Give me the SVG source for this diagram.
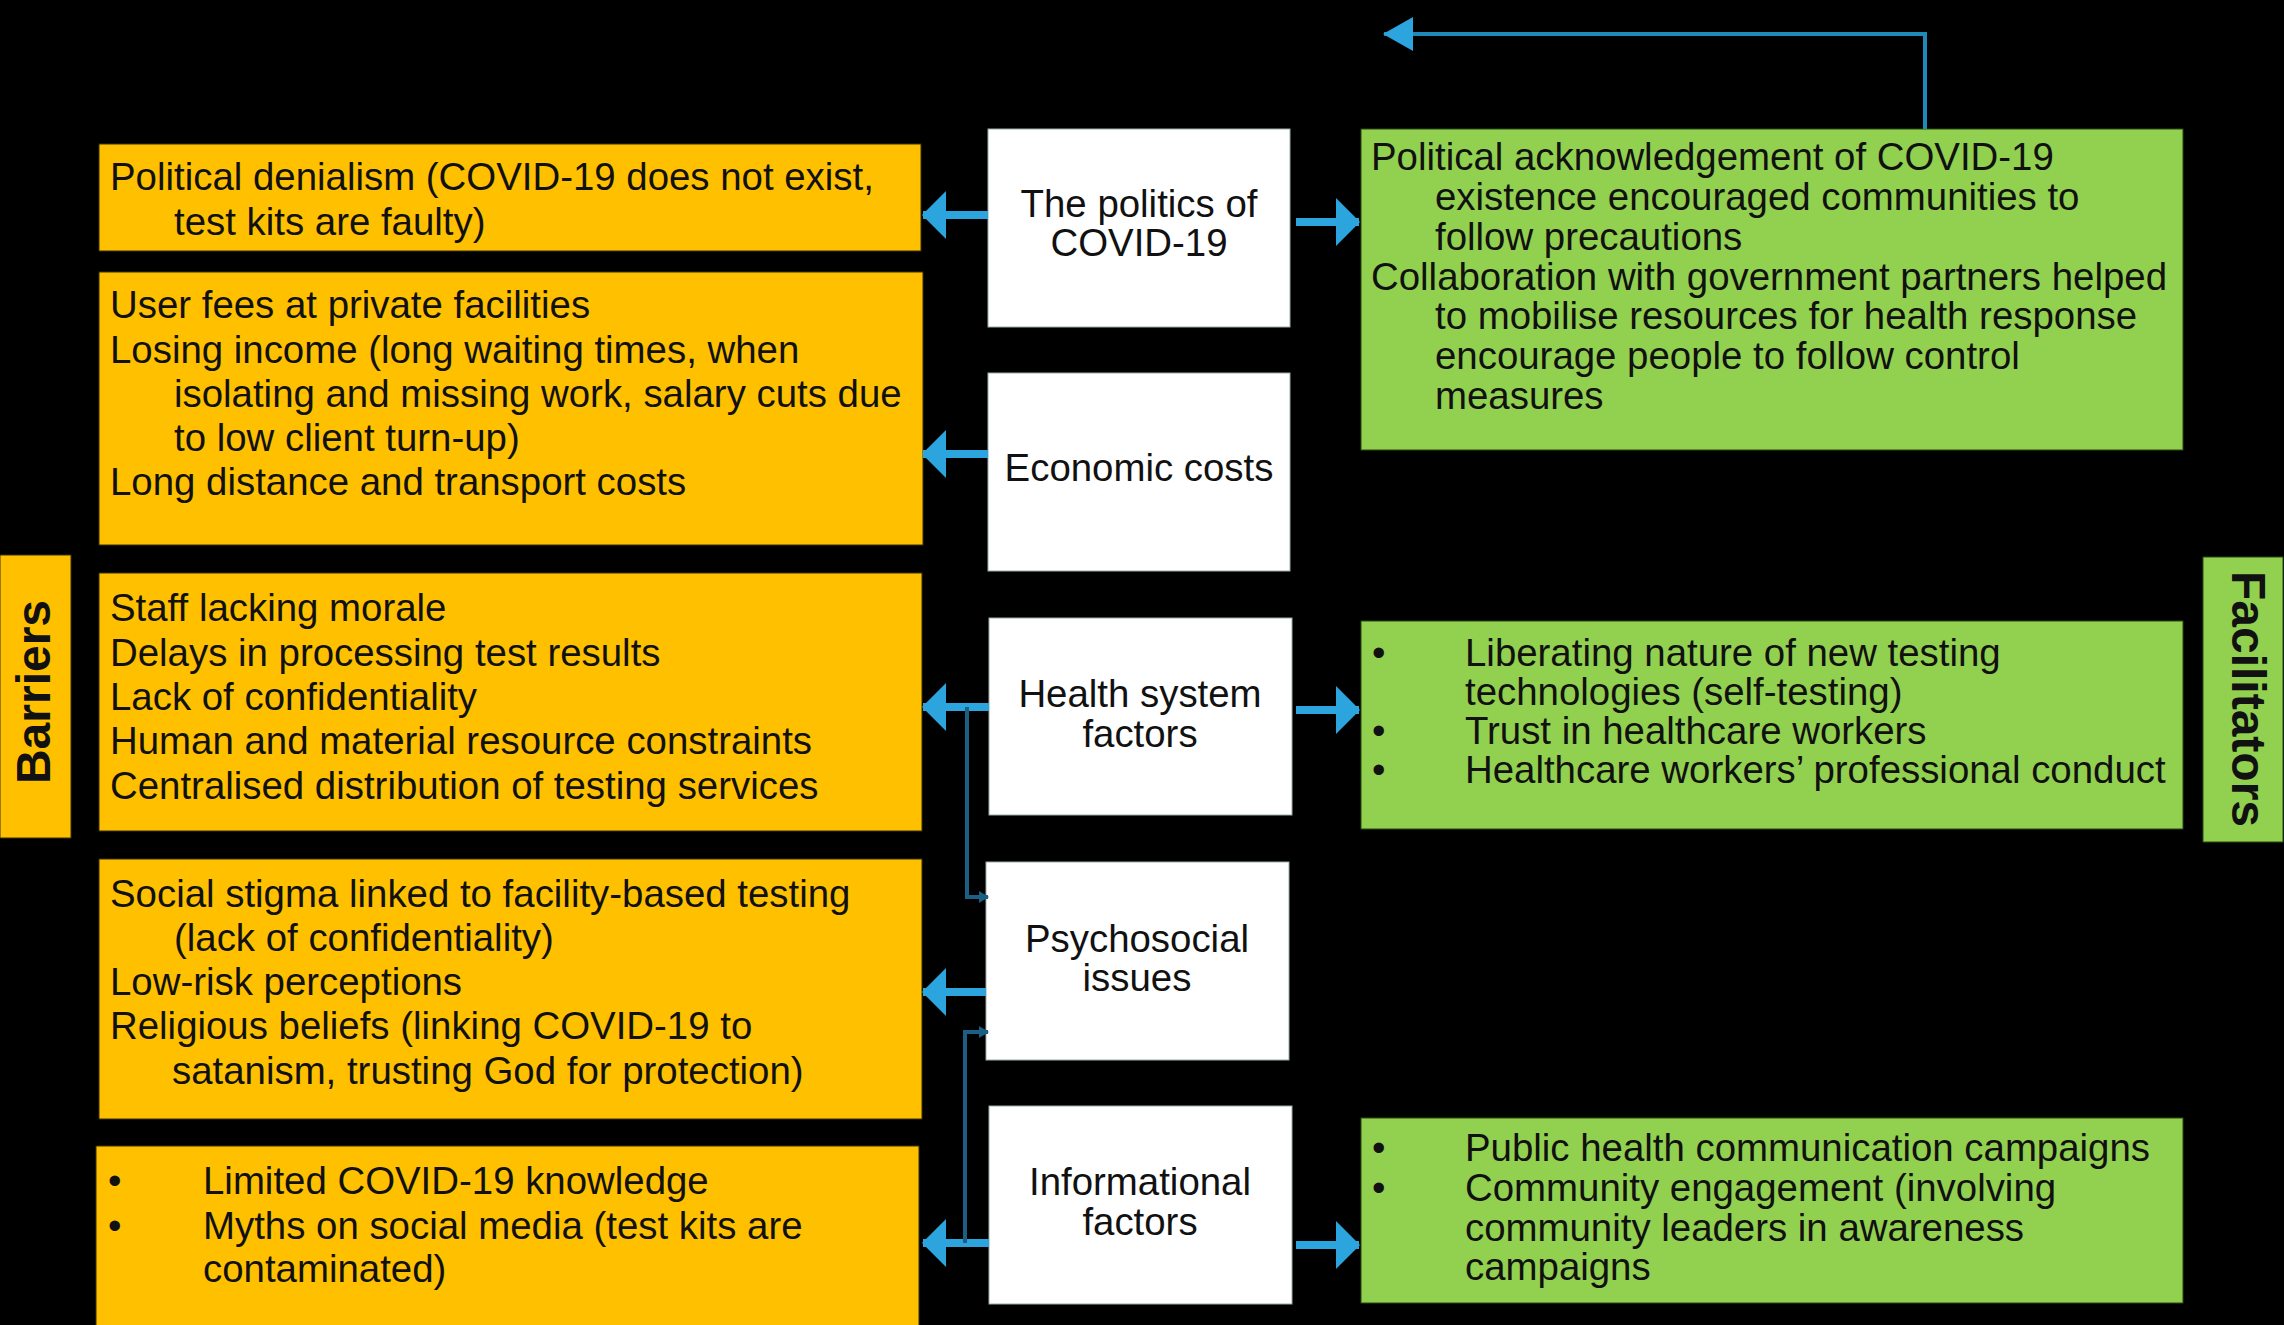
<svg xmlns="http://www.w3.org/2000/svg" width="2284" height="1325" viewBox="0 0 2284 1325">
<defs>
<style>
.bg{fill:#000}
.yel{fill:#FFC000;stroke:#3a3000;stroke-width:1}
.grn{fill:#92D050;stroke:#2a4a10;stroke-width:1}
.wht{fill:#fff;stroke:#9aa;stroke-width:1}
.t{font-family:"Liberation Sans",Arial,sans-serif;font-size:38.4px;fill:#111}
.c{text-anchor:middle}
.side{font-family:"Liberation Sans",Arial,sans-serif;font-size:48px;font-weight:bold;fill:#111;text-anchor:middle}
.arr{stroke:#2CA5DE;stroke-width:8;fill:none}
.br{stroke:#1B5F82;stroke-width:4;fill:none}
.top{stroke:#1E8AB8;stroke-width:4;fill:none}
</style>
<marker id="ah" markerUnits="userSpaceOnUse" viewBox="0 0 24 48" markerWidth="24" markerHeight="48" refX="23" refY="24" orient="auto">
<path d="M0,0 L24,24 L0,48 Z" fill="#2CA5DE"/>
</marker>
<marker id="ahs" markerUnits="userSpaceOnUse" viewBox="0 0 10 12" markerWidth="10" markerHeight="12" refX="9" refY="6" orient="auto">
<path d="M0,0 L10,6 L0,12 Z" fill="#1B5F82"/>
</marker>
<marker id="aht" markerUnits="userSpaceOnUse" viewBox="0 0 30 34" markerWidth="30" markerHeight="34" refX="29" refY="17" orient="auto">
<path d="M0,0 L30,17 L0,34 Z" fill="#2CA5DE"/>
</marker>
</defs>
<rect class="bg" x="0" y="0" width="2284" height="1325"/>

<g id="barriers-label">
<rect class="yel" x="0" y="555" width="71" height="283"/>
<text class="side" transform="translate(50,692) rotate(-90)">Barriers</text>
</g>
<g id="facilitators-label">
<rect class="grn" x="2203" y="557" width="80" height="285"/>
<text class="side" transform="translate(2232,699) rotate(90)">Facilitators</text>
</g>

<g id="b-politics">
<rect class="yel" x="99" y="144" width="822" height="107"/>
<text class="t"><tspan x="110" y="190">Political denialism (COVID-19 does not exist,</tspan><tspan x="174" y="235">test kits are faulty)</tspan></text>
</g>
<g id="b-economic">
<rect class="yel" x="99" y="272" width="824" height="273"/>
<text class="t"><tspan x="110" y="318">User fees at private facilities</tspan><tspan x="110" y="363">Losing income (long waiting times, when</tspan><tspan x="174" y="407">isolating and missing work, salary cuts due</tspan><tspan x="174" y="451">to low client turn-up)</tspan><tspan x="110" y="495">Long distance and transport costs</tspan></text>
</g>
<g id="b-health">
<rect class="yel" x="99" y="573" width="823" height="258"/>
<text class="t"><tspan x="110" y="621">Staff lacking morale</tspan><tspan x="110" y="666">Delays in processing test results</tspan><tspan x="110" y="710">Lack of confidentiality</tspan><tspan x="110" y="754">Human and material resource constraints</tspan><tspan x="110" y="799">Centralised distribution of testing services</tspan></text>
</g>
<g id="b-psychosocial">
<rect class="yel" x="99" y="859" width="823" height="260"/>
<text class="t"><tspan x="110" y="907">Social stigma linked to facility-based testing</tspan><tspan x="174" y="951">(lack of confidentiality)</tspan><tspan x="110" y="995">Low-risk perceptions</tspan><tspan x="110" y="1039">Religious beliefs (linking COVID-19 to</tspan><tspan x="172" y="1084">satanism, trusting God for protection)</tspan></text>
</g>
<g id="b-informational">
<rect class="yel" x="96" y="1146" width="823" height="185"/>
<text class="t"><tspan x="108" y="1194">•</tspan><tspan x="203" y="1194">Limited COVID-19 knowledge</tspan><tspan x="108" y="1239">•</tspan><tspan x="203" y="1239">Myths on social media (test kits are</tspan><tspan x="203" y="1282">contaminated)</tspan></text>
</g>

<g id="n-politics">
<rect class="wht" x="988" y="129" width="302" height="198"/>
<text class="t c"><tspan x="1139" y="217">The politics of</tspan><tspan x="1139" y="256">COVID-19</tspan></text>
</g>
<g id="n-economic">
<rect class="wht" x="988" y="373" width="302" height="198"/>
<text class="t c"><tspan x="1139" y="481">Economic costs</tspan></text>
</g>
<g id="n-health">
<rect class="wht" x="989" y="618" width="303" height="197"/>
<text class="t c"><tspan x="1140" y="707">Health system</tspan><tspan x="1140" y="747">factors</tspan></text>
</g>
<g id="n-psychosocial">
<rect class="wht" x="986" y="862" width="303" height="198"/>
<text class="t c"><tspan x="1137" y="952">Psychosocial</tspan><tspan x="1137" y="991">issues</tspan></text>
</g>
<g id="n-informational">
<rect class="wht" x="989" y="1106" width="303" height="198"/>
<text class="t c"><tspan x="1140" y="1195">Informational</tspan><tspan x="1140" y="1235">factors</tspan></text>
</g>

<g id="f-politics">
<rect class="grn" x="1361" y="129" width="822" height="321"/>
<text class="t"><tspan x="1371" y="170">Political acknowledgement of COVID-19</tspan><tspan x="1435" y="210">existence encouraged communities to</tspan><tspan x="1435" y="250">follow precautions</tspan><tspan x="1371" y="290">Collaboration with government partners helped</tspan><tspan x="1435" y="329">to mobilise resources for health response</tspan><tspan x="1435" y="369">encourage people to follow control</tspan><tspan x="1435" y="409">measures</tspan></text>
</g>
<g id="f-health">
<rect class="grn" x="1361" y="621" width="822" height="208"/>
<text class="t"><tspan x="1372" y="666">•</tspan><tspan x="1465" y="666">Liberating nature of new testing</tspan><tspan x="1465" y="705">technologies (self-testing)</tspan><tspan x="1372" y="744">•</tspan><tspan x="1465" y="744">Trust in healthcare workers</tspan><tspan x="1372" y="783">•</tspan><tspan x="1465" y="783">Healthcare workers’ professional conduct</tspan></text>
</g>
<g id="f-informational">
<rect class="grn" x="1361" y="1118" width="822" height="185"/>
<text class="t"><tspan x="1372" y="1161">•</tspan><tspan x="1465" y="1161">Public health communication campaigns</tspan><tspan x="1372" y="1201">•</tspan><tspan x="1465" y="1201">Community engagement (involving</tspan><tspan x="1465" y="1241">community leaders in awareness</tspan><tspan x="1465" y="1280">campaigns</tspan></text>
</g>

<g id="connectors">
<path class="top" d="M1925,129 L1925,34 L1384,34" marker-end="url(#aht)"/>
<line class="arr" x1="988" y1="215" x2="923" y2="215" marker-end="url(#ah)"/>
<line class="arr" x1="1296" y1="222" x2="1359" y2="222" marker-end="url(#ah)"/>
<line class="arr" x1="988" y1="454" x2="923" y2="454" marker-end="url(#ah)"/>
<line class="arr" x1="989" y1="707" x2="923" y2="707" marker-end="url(#ah)"/>
<line class="arr" x1="1296" y1="710" x2="1359" y2="710" marker-end="url(#ah)"/>
<line class="arr" x1="986" y1="992" x2="923" y2="992" marker-end="url(#ah)"/>
<line class="arr" x1="989" y1="1243" x2="923" y2="1243" marker-end="url(#ah)"/>
<line class="arr" x1="1296" y1="1245" x2="1359" y2="1245" marker-end="url(#ah)"/>
<path class="br" d="M967,707 L967,897 L988,897" marker-end="url(#ahs)"/>
<path class="br" d="M965,1243 L965,1032 L988,1032" marker-end="url(#ahs)"/>
</g>
</svg>
